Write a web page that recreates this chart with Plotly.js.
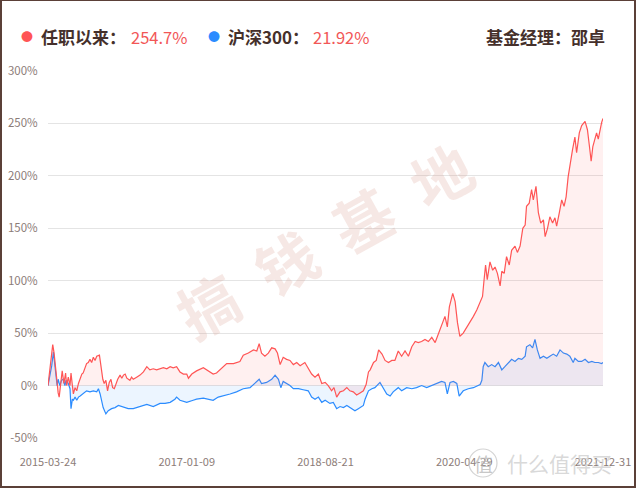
<!DOCTYPE html>
<html><head><meta charset="utf-8">
<script src="https://cdn.plot.ly/plotly-3.0.1.min.js"></script>
<style>
html,body{margin:0;padding:0;background:#fff;}
#wrap{position:relative;width:640px;height:488px;}
#chart{position:absolute;left:0;top:0;width:640px;height:488px;}
#frame{position:absolute;left:0;top:0;width:636px;height:488px;box-sizing:border-box;border-style:solid;border-color:#5b4038;border-width:1px 2px 2px 2px;pointer-events:none;}
</style></head>
<body><div id="wrap"><div id="chart"></div><div id="frame"></div></div>
<script>
// trading-day offsets from 2015-03-24 and cumulative returns (%)
const fundDays = [0,14,18,21,26,30,33,38,42,47,52,55,60,65,68,72,75,80,85,90,95,100,104,109,114,119,124,129,134,139,144,152,156,162,166,171,176,181,186,191,196,201,206,213,218,223,228,233,237,242,247,252,262,272,282,292,301,311,321,331,341,351,361,370,380,390,400,410,415,425,434,439,459,474,488,498,513,528,548,567,577,592,607,617,624,631,641,651,661,671,678,686,695,705,715,725,735,745,759,769,779,789,799,809,819,828,838,845,853,863,873,883,892,902,912,922,932,940,947,952,962,970,977,987,996,1006,1016,1025,1035,1045,1055,1065,1075,1085,1094,1104,1114,1124,1134,1144,1153,1163,1173,1180,1186,1196,1203,1210,1217,1227,1237,1247,1257,1267,1277,1284,1288,1293,1298,1306,1314,1321,1328,1336,1341,1348,1355,1363,1370,1380,1387,1395,1403,1410,1414,1422,1429,1434,1442,1449,1456,1464,1469,1476,1483,1491,1498,1503,1511,1518,1525,1531,1537,1542,1550,1557,1562,1570,1577,1587,1594,1600,1605,1610,1616,1621,1626,1631,1636,1640];
const fundRet = [0,39,31,18,6,-7,-11,3,14,2,12,0,8,0,12,0,-8,-2,-5,2,6,11,12,17,21,22,25,22,27,24,28,29,19,6,2,5,-5,3,6,-2,-3,2,6,10,7,10,11,7,6,5,8,6,8,10,13,18,15,16,15,16,17,16,18,17,18,13,11,11,7,11,13,14,17,14,11,12,17,21,21,23,29,31,34,33,40,31,28,31,36,35,31,20,27,25,24,20,22,19,22,17,11,8,11,2,3,0,-5,-2,-11,-6,-5,-2,-5,-6,-9,-7,-5,1,13,15,22,24,34,30,24,22,24,24,33,28,33,28,37,42,41,42,44,42,46,41,49,56,66,56,75,88,80,60,47,50,55,60,66,72,80,85,99,115,101,118,110,113,107,95,109,107,123,115,129,133,127,133,150,153,171,174,187,177,190,165,155,158,142,150,161,155,160,152,165,177,171,180,199,210,225,237,222,241,248,252,244,228,214,228,235,241,235,244,251,254.7];
const hsDays = [0,8,11,16,20,24,27,30,35,40,45,50,53,60,65,68,72,75,80,85,90,95,104,114,124,134,144,149,154,159,163,171,178,188,198,208,218,228,237,252,262,272,292,311,331,346,361,375,380,390,410,429,439,459,474,488,503,518,538,557,577,597,612,624,631,646,661,671,681,688,695,705,715,725,740,754,769,779,789,799,809,819,833,843,853,863,873,883,897,907,917,927,932,937,947,957,966,981,991,1001,1011,1020,1035,1045,1060,1075,1089,1104,1119,1134,1149,1163,1173,1180,1188,1198,1208,1215,1227,1242,1257,1272,1277,1282,1286,1291,1301,1311,1321,1331,1341,1350,1360,1370,1380,1390,1400,1410,1414,1424,1432,1439,1446,1454,1464,1474,1483,1493,1503,1513,1523,1533,1542,1552,1557,1567,1577,1587,1597,1607,1616,1626,1636,1640];
const hsRet = [0,14,19,32,22,13,0,6,0,5,6,0,5,2,-3,-22,-13,-14,-11,-14,-11,-10,-8,-5,-6,-5,-6,-3,-8,-17,-21,-27,-24,-22,-21,-19,-20,-21,-22,-22,-21,-20,-18,-20,-17,-17,-16,-13,-11,-14,-16,-14,-13,-12,-13,-14,-11,-10,-8,-6,-3,-2,2,6,2,3,6,10,6,-2,4,2,0,-3,-3,-4,-5,-11,-13,-11,-16,-14,-17,-16,-22,-20,-21,-19,-22,-24,-22,-20,-19,-13,-5,-3,-2,3,-2,-8,-10,-6,-2,-5,-2,-3,-2,0,-2,0,2,4,3,-8,3,4,2,-10,-5,-3,-2,0,1,5,18,22,18,20,18,22,15,18,22,25,23,26,25,28,37,39,36,44,34,26,28,26,28,30,28,34,31,30,28,22,26,23,23,25,22,23,22,22,21,21.92];
const tickIdx = [0,410,820,1230,1640];
const tickDates = ['2015-03-24','2017-01-09','2018-08-21','2020-04-29','2021-12-31'];
const yTicks = [-50,0,50,100,150,200,250,300];
const fundName = '任职以来：', fundValue = '254.7%';
const idxName = '沪深300：', idxValue = '21.92%';
const managerLabel = '基金经理：邵卓';
const watermark = ['搞','钱','基','地'];

const FONT = '"Noto Sans CJK SC", "Noto Sans", sans-serif';
const L = 48, R = 603, T = 71, B = 438;
const px = x => (x - L) / (R - L);
const py = y => (B - y) / (B - T);

const traces = [
  {x: hsDays, y: hsRet, type: 'scatter', mode: 'lines', fill: 'tozeroy',
   fillcolor: 'rgba(40,140,255,0.09)', line: {color: '#2b8cff', width: 1.2}, hoverinfo: 'skip'},
  {x: fundDays, y: fundRet, type: 'scatter', mode: 'lines', fill: 'tozeroy',
   fillcolor: 'rgba(255,90,90,0.09)', line: {color: '#ff5555', width: 1.2}, hoverinfo: 'skip'}
];

const ann = [];
const wmPos = [[207,303],[285,260],[362,217],[440,173]];
watermark.forEach((c,i) => ann.push({xref:'paper', yref:'paper', x: px(wmPos[i][0]), y: py(wmPos[i][1]),
  xanchor:'center', yanchor:'middle',
  text: '<b>'+c+'</b>', showarrow:false, textangle:-29, font:{family:FONT, size:60, color:'rgba(215,150,135,0.22)'}}));
const hy = py(37);
function a(x, text, anchor, size, color) {
  ann.push({xref:'paper', yref:'paper', x:px(x), y:hy, xanchor:anchor, yanchor:'middle', text:text, showarrow:false,
    font:{family:FONT, size:size, color:color}});
}
a(27, '●', 'center', 12, '#ff5555');
a(39, '<b>'+fundName+'</b>', 'left', 17, '#45302b');
a(129, fundValue, 'left', 16.5, '#f25757');
a(214, '●', 'center', 12, '#2b8cff');
a(226, '<b>'+idxName+'</b>', 'left', 17, '#45302b');
a(311, idxValue, 'left', 16.5, '#f25757');
a(607, '<b>'+managerLabel+'</b>', 'right', 17, '#45302b');
ann.push({xref:'paper', yref:'paper', x:px(483), y:py(463), xanchor:'center', yanchor:'middle', text:'值', showarrow:false,
  font:{family:FONT,size:19,color:'rgba(185,185,185,0.8)'}});
ann.push({xref:'paper', yref:'paper', x:px(505), y:py(463), xanchor:'left', yanchor:'middle', text:'什么值得买', showarrow:false,
  font:{family:FONT,size:21,color:'rgba(200,200,200,0.7)'}});

const layout = {
  width: 640, height: 488,
  margin: {l: L, r: 640 - R, t: T, b: 488 - B, pad: 0},
  paper_bgcolor: '#fff', plot_bgcolor: '#fff',
  showlegend: false,
  xaxis: {range: [0, 1640], tickvals: tickIdx, ticktext: tickDates, showgrid: false, zeroline: false, showline: false,
    ticks: 'outside', ticklen: 14, tickcolor: 'rgba(0,0,0,0)', tickfont: {family: FONT, size: 11, color: '#8c7c78'}},
  yaxis: {range: [-50, 300], tickvals: yTicks, ticktext: yTicks.map(v => v + '%'), showgrid: true, gridcolor: '#e4e4e4', gridwidth: 1,
    zeroline: false, showline: false, ticks: 'outside', ticklen: 7, tickcolor: 'rgba(0,0,0,0)',
    tickfont: {family: FONT, size: 11.5, color: '#8c7c78'}},
  shapes: [{type:'circle', xref:'paper', yref:'paper', x0:px(469), x1:px(497), y0:py(477), y1:py(449),
    line:{color:'rgba(200,200,200,0.8)', width:1.2}}],
  annotations: ann
};
Plotly.newPlot('chart', traces, layout, {staticPlot: true, displayModeBar: false});
</script></body></html>
